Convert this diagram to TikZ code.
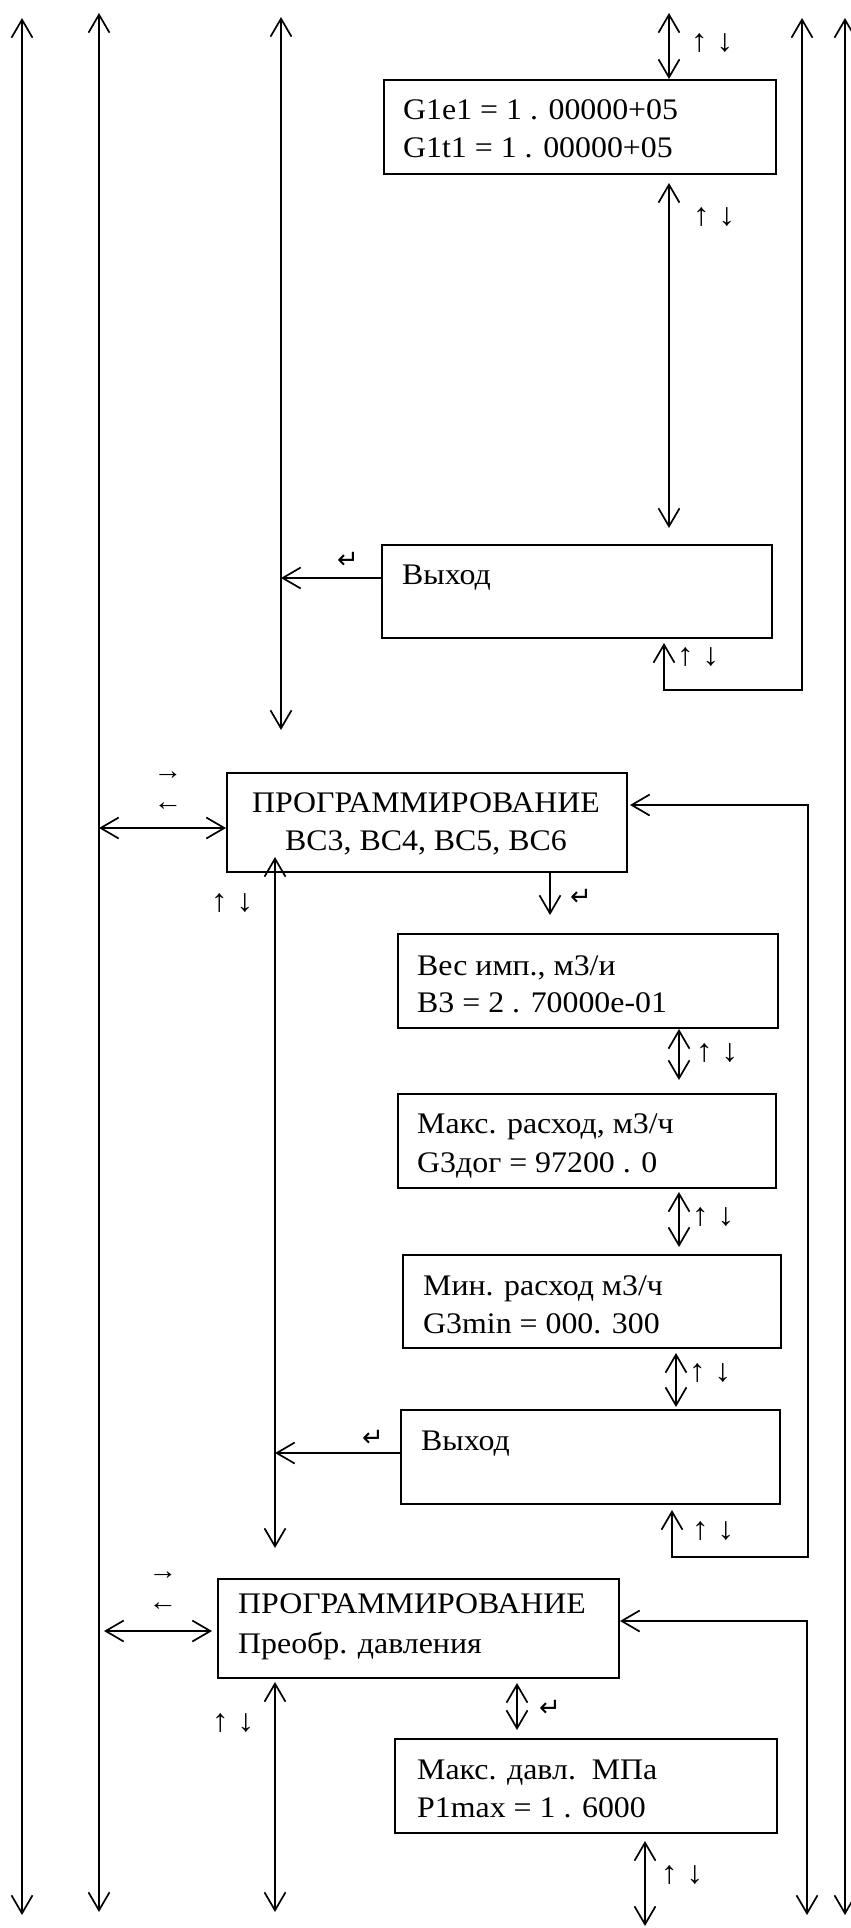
\documentclass[tikz,border=0pt]{standalone}
\usepackage{fontspec}
\setmainfont{Liberation Serif}[FakeStretch=1.066]
\newfontfamily\symfont{DejaVu Sans}
\usetikzlibrary{arrows.meta}
\tikzset{
  box/.style={draw, line width=2bp, anchor=north west, inner sep=0pt},
  txt/.style={anchor=base west, inner sep=0pt, font=\fontsize{30}{38}\selectfont},
  ctxt/.style={anchor=base, inner sep=0pt, font=\fontsize{30}{38}\selectfont},
  conn/.style={line width=1.7bp, >={Straight Barb[length=18bp,width=21bp]}},
  updn/.style={inner sep=0pt, font=\fontsize{32}{32}\selectfont},
  lrlbl/.style={inner sep=0pt, font=\fontsize{27}{27}\selectfont},
  enterlbl/.style={inner sep=0pt, font=\symfont\fontsize{26}{26}\selectfont},
}
\begin{document}
\begin{tikzpicture}[x=1bp,y=-1bp]
\useasboundingbox (0,0) rectangle (851,1928);
% boxes
\node[box, minimum width=392bp, minimum height=94bp] (b1) at (383,79) {};
\node[txt] (b1a) at (403,119) {G1e1 = 1 . 00000+05};
\node[txt] (b1b) at (403,157) {G1t1 = 1 . 00000+05};
\node[box, minimum width=390bp, minimum height=93bp] (b2) at (381,544) {};
\node[txt] (b2a) at (402,584) {Выход};
\node[box, minimum width=400bp, minimum height=99bp] (p1) at (226,772) {};
\node[ctxt] (p1a) at (426,812) {ПРОГРАММИРОВАНИЕ};
\node[ctxt] (p1b) at (426,850) {ВС3, ВС4, ВС5, ВС6};
\node[box, minimum width=380bp, minimum height=94bp] (b3) at (397,933) {};
\node[txt] (b3a) at (417,975) {Вес имп., м3/и};
\node[txt] (b3b) at (417,1012) {В3 = 2 . 70000е-01};
\node[box, minimum width=378bp, minimum height=94bp] (b4) at (397,1093) {};
\node[txt] (b4a) at (417,1133) {Макс. расход, м3/ч};
\node[txt] (b4b) at (417,1172) {G3дог = 97200 . 0};
\node[box, minimum width=378bp, minimum height=93bp] (b5) at (402,1254) {};
\node[txt] (b5a) at (423,1295) {Мин. расход м3/ч};
\node[txt] (b5b) at (423,1333) {G3min = 000. 300};
\node[box, minimum width=379bp, minimum height=94bp] (b6) at (400,1409) {};
\node[txt] (b6a) at (421,1450) {Выход};
\node[box, minimum width=401bp, minimum height=99bp] (p2) at (217,1578) {};
\node[txt] (p2a) at (238,1613) {ПРОГРАММИРОВАНИЕ};
\node[txt] (p2b) at (238,1653) {Преобр. давления};
\node[box, minimum width=382bp, minimum height=94bp] (b7) at (394,1738) {};
\node[txt] (b7a) at (417,1779) {Макс. давл.\ \ МПа};
\node[txt] (b7b) at (417,1817) {P1max = 1 . 6000};
% long vertical lines
\coordinate (L1t) at (22,18);   \coordinate (L1b) at (22,1915);
\coordinate (L2t) at (99,13);   \coordinate (L2b) at (99,1912);
\coordinate (L3t) at (281,17);  \coordinate (L3b) at (281,730);
\coordinate (R1t) at (845,18);  \coordinate (R1b) at (845,1915);
\draw[conn,<->] (L1t) -- (L1b);
\draw[conn,<->] (L2t) -- (L2b);
\draw[conn,<->] (L3t) -- (L3b);
\draw[conn,<->] (R1t) -- (R1b);
% top block
\coordinate (a5t) at (669,13);
\draw[conn,<->] (a5t) -- (a5t |- b1.north);
\coordinate (a6t) at (669,183); \coordinate (a6b) at (669,528);
\draw[conn,<->] (a6t) -- (a6b);
\draw[conn,->] (b2.west |- 0,578) -- (L3t |- 0,578);
\coordinate (a8s) at (664,643); \coordinate (a8c) at (664,690);
\coordinate (a8d) at (802,690); \coordinate (a8t) at (802,18);
\draw[conn,<->] (a8s) -- (a8c) -- (a8d) -- (a8t);
% p1 block
\draw[conn,<->] (L2t |- 0,828) -- (p1.west |- 0,828);
\coordinate (a10s) at (630,805); \coordinate (a10c) at (808,805);
\coordinate (a10d) at (808,1557); \coordinate (a10e) at (672,1557); \coordinate (a10t) at (672,1510);
\draw[conn,<->] (a10s) -- (a10c) -- (a10d) -- (a10e) -- (a10t);
\coordinate (a11t) at (275,857); \coordinate (a11b) at (275,1548);
\draw[conn,<->] (a11t) -- (a11b);
\coordinate (a12t) at (550,872); \coordinate (a12b) at (550,915);
\draw[conn,->] (a12t) -- (a12b);
\coordinate (a13t) at (679,1029); \coordinate (a13b) at (679,1080);
\draw[conn,<->] (a13t) -- (a13b);
\coordinate (a14t) at (679,1192); \coordinate (a14b) at (679,1247);
\draw[conn,<->] (a14t) -- (a14b);
\coordinate (a15t) at (676,1353); \coordinate (a15b) at (676,1407);
\draw[conn,<->] (a15t) -- (a15b);
\draw[conn,->] (b6.west |- 0,1453) -- (a11t |- 0,1453);
% p2 block
\coordinate (a17l) at (104,1631); \coordinate (a17r) at (212,1631);
\draw[conn,<->] (a17l) -- (a17r);
\coordinate (a18s) at (620,1621); \coordinate (a18c) at (807,1621); \coordinate (a18b) at (807,1915);
\draw[conn,<->] (a18s) -- (a18c) -- (a18b);
\coordinate (a19t) at (275,1682); \coordinate (a19b) at (275,1912);
\draw[conn,<->] (a19t) -- (a19b);
\coordinate (a20t) at (517,1683); \coordinate (a20b) at (517,1730);
\draw[conn,<->] (a20t) -- (a20b);
\coordinate (a21t) at (645,1841); \coordinate (a21b) at (645,1926);
\draw[conn,<->] (a21t) -- (a21b);
% labels
\node[updn] (u1) at (712,43) {↑ ↓};
\node[updn] (u2) at (714,217) {↑ ↓};
\node[updn] (u3) at (698,657) {↑ ↓};
\node[updn] (u4) at (232,903) {↑ ↓};
\node[updn] (u5) at (717,1053) {↑ ↓};
\node[updn] (u6) at (713,1217) {↑ ↓};
\node[updn] (u7) at (710,1373) {↑ ↓};
\node[updn] (u8) at (713,1531) {↑ ↓};
\node[updn] (u9) at (233,1723) {↑ ↓};
\node[updn] (u10) at (682,1875) {↑ ↓};
\node[lrlbl] (r1) at (168,776) {→};
\node[lrlbl] (l1) at (168,807) {←};
\node[lrlbl] (r2) at (163,1576) {→};
\node[lrlbl] (l2) at (163,1607) {←};
\node[enterlbl] (e1) at (348,560) {↵};
\node[enterlbl] (e2) at (581,897) {↵};
\node[enterlbl] (e3) at (373,1438) {↵};
\node[enterlbl] (e4) at (550,1708) {↵};
\end{tikzpicture}
\end{document}
